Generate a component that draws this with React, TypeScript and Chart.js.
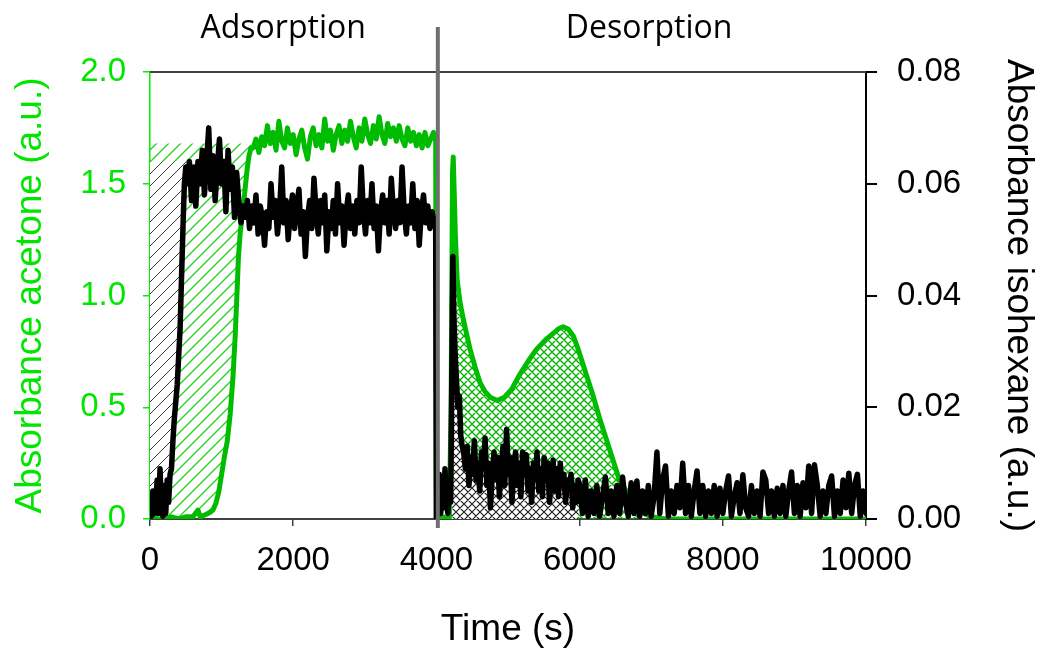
import React, { useEffect, useRef } from 'react';
import { Chart, registerables } from 'chart.js';

Chart.register(...registerables);

// ---------- axes / labels ----------
const X_MIN = 0;
const X_MAX = 10000;
const X_STEP = 2000;
const LEFT_MIN = 0;
const LEFT_MAX = 2.0;
const LEFT_STEP = 0.5;
const RIGHT_MIN = 0;
const RIGHT_MAX = 0.08;
const RIGHT_STEP = 0.02;
const X_TITLE = 'Time (s)';
const LEFT_TITLE = 'Absorbance acetone (a.u.)';
const RIGHT_TITLE = 'Absorbance isohexane (a.u.)';
const PHASE_LABELS = ['Adsorption', 'Desorption'];
const PHASE_LABEL_T = [1860, 6970];
const DIVIDER_T = 4020;

// ---------- acetone (green, left axis) ----------
const G_RISE_T = [0, 100, 200, 300, 400, 500, 600, 670, 700, 780, 840, 880, 920, 960, 1000, 1040, 1080, 1120, 1160, 1190, 1215, 1235, 1260, 1290, 1320, 1355, 1380, 1410];
const G_RISE_V = [0.01, 0.0, 0.0, 0.01, 0.0, 0.01, 0.01, 0.04, 0.01, 0.02, 0.03, 0.04, 0.07, 0.12, 0.2, 0.28, 0.35, 0.47, 0.64, 0.82, 1.01, 1.17, 1.28, 1.36, 1.45, 1.56, 1.62, 1.66];
const G_PLATEAU_T0 = 1440;
const G_PLATEAU_DT = 40;
const G_PLATEAU_V = [
  1.66, 1.70, 1.64, 1.71, 1.67, 1.76, 1.68, 1.73, 1.65, 1.78,
  1.69, 1.66, 1.75, 1.68, 1.72, 1.63, 1.70, 1.74, 1.66, 1.61,
  1.71, 1.75, 1.67, 1.72, 1.66, 1.79, 1.69, 1.74, 1.65, 1.72,
  1.76, 1.68, 1.74, 1.69, 1.78, 1.71, 1.66, 1.75, 1.69, 1.79,
  1.72, 1.68, 1.76, 1.70, 1.80, 1.72, 1.68, 1.77, 1.71, 1.75,
  1.69, 1.76, 1.70, 1.67, 1.75, 1.69, 1.73, 1.67, 1.72, 1.66,
  1.73, 1.67, 1.70, 1.73,
];
const G_DES_T = [3990, 4000, 4050, 4100, 4150, 4180, 4205, 4225, 4235, 4250, 4265, 4290, 4330, 4372, 4420, 4470, 4540, 4610, 4680, 4750, 4850, 4950, 5050, 5170, 5290, 5400, 5520, 5630, 5700, 5770, 5840, 5910, 5980, 6050, 6120, 6190, 6280, 6380, 6480, 6560, 6660, 6760, 6860, 7000, 7200, 7500, 8000, 8500, 9000, 9500, 10000];
const G_DES_V = [1.69, 0.0, 0.0, 0.01, 0.0, 0.0, 0.5, 1.55, 1.62, 1.45, 1.27, 1.07, 0.97, 0.9, 0.83, 0.76, 0.68, 0.61, 0.57, 0.545, 0.53, 0.545, 0.58, 0.65, 0.71, 0.76, 0.8, 0.83, 0.85, 0.86, 0.85, 0.82, 0.76, 0.69, 0.62, 0.55, 0.45, 0.35, 0.25, 0.17, 0.12, 0.07, 0.03, 0.01, 0.0, 0.0, 0.0, 0.0, 0.0, 0.0, 0.0];

// ---------- isohexane (black, right axis) ----------
const B_RISE_T = [0, 20, 40, 60, 80, 100, 120, 140, 160, 180, 200, 220, 240, 260, 280, 300, 320, 340, 360, 380, 400, 420, 440, 460, 480, 500];
const B_RISE_V = [0.002, 0.0005, 0.005, 0.001, 0.003, 0.007, 0.001, 0.009, 0.002, 0.0005, 0.006, 0.001, 0.007, 0.003, 0.008, 0.009, 0.014, 0.018, 0.021, 0.024, 0.029, 0.034, 0.043, 0.052, 0.060, 0.063];
const B_PLAT_A_T0 = 520;
const B_PLAT_A_DT = 30;
const B_PLAT_A_V = [
  0.060, 0.064, 0.057, 0.063, 0.056, 0.064, 0.060, 0.066, 0.058, 0.064,
  0.070, 0.059, 0.065, 0.057, 0.063, 0.068, 0.060, 0.064, 0.055, 0.066,
  0.059, 0.063, 0.054, 0.062, 0.057, 0.053, 0.056,
];
const B_PLAT_B_T0 = 1330;
const B_PLAT_B_DT = 30;
const B_PLAT_B_V = [
  0.054, 0.057, 0.052, 0.056, 0.053, 0.058, 0.051, 0.056, 0.054, 0.049,
  0.055, 0.052, 0.060, 0.054, 0.057, 0.051, 0.055, 0.063, 0.053, 0.057,
  0.050, 0.055, 0.058, 0.052, 0.056, 0.059, 0.051, 0.055, 0.047, 0.054,
  0.057, 0.052, 0.061, 0.055, 0.051, 0.057, 0.053, 0.058, 0.048, 0.055,
  0.052, 0.057, 0.051, 0.060, 0.053, 0.056, 0.049, 0.055, 0.058, 0.052,
  0.056, 0.051, 0.057, 0.053, 0.063, 0.055, 0.051, 0.057, 0.053, 0.060,
  0.052, 0.056, 0.048, 0.055, 0.058, 0.053, 0.057, 0.051, 0.061, 0.055,
  0.052, 0.057, 0.053, 0.063, 0.055, 0.051, 0.056, 0.053, 0.060, 0.052,
  0.057, 0.049, 0.055, 0.058, 0.053, 0.056, 0.052, 0.055, 0.053,
];
const B_DES_T = [3990, 4000, 4020, 4040, 4060, 4080, 4100, 4120, 4140, 4160, 4180, 4200, 4215, 4230, 4245, 4260, 4280, 4300, 4320, 4340, 4360];
const B_DES_V = [0.052, 0.0, 0.004, 0.008, 0.001, 0.006, 0.002, 0.009, 0.003, 0.001, 0.007, 0.003, 0.025, 0.047, 0.036, 0.03, 0.025, 0.02, 0.022, 0.015, 0.013];
const B_DES_MID_T0 = 4380;
const B_DES_MID_DT = 25;
const B_DES_MID_V = [
  0.012, 0.009, 0.013, 0.006, 0.011, 0.008, 0.014, 0.007, 0.010, 0.005,
  0.012, 0.009, 0.0145, 0.006, 0.010, 0.002, 0.008, 0.012, 0.007, 0.011,
  0.004, 0.009, 0.013, 0.006, 0.016, 0.008, 0.011, 0.003, 0.009, 0.012,
  0.006, 0.010, 0.004, 0.012, 0.008, 0.0115, 0.005, 0.009, 0.003, 0.010,
  0.007, 0.012, 0.005, 0.009, 0.004, 0.011, 0.007, 0.010, 0.003, 0.008,
  0.0105, 0.005, 0.009, 0.004, 0.010, 0.006, 0.008, 0.003, 0.007, 0.0055,
  0.008, 0.002, 0.006, 0.003, 0.007,
];
const B_DES_TAIL_T0 = 6000;
const B_DES_TAIL_DT = 40;
const B_DES_TAIL_V = [
  0.006, 0.001, 0.007, 0.0005, 0.005, 0.001, 0.006, 0.0005, 0.004, 0.0075,
  0.001, 0.005, 0.0005, 0.006, 0.001, 0.0075, 0.003, 0.0005, 0.0065, 0.001,
  0.0068, 0.0005, 0.005, 0.001, 0.006, 0.0005, 0.004, 0.012, 0.001, 0.007,
  0.0095, 0.0005, 0.005, 0.001, 0.006, 0.002, 0.010, 0.001, 0.006, 0.0005,
  0.005, 0.0086, 0.001, 0.006, 0.0005, 0.005, 0.001, 0.006, 0.0005, 0.0055,
  0.001, 0.005, 0.0077, 0.0005, 0.004, 0.0065, 0.001, 0.0079, 0.002, 0.0005,
  0.006, 0.001, 0.005, 0.0005, 0.0084, 0.007, 0.001, 0.005, 0.0005, 0.0055,
  0.001, 0.006, 0.0005, 0.005, 0.0084, 0.001, 0.006, 0.0005, 0.0065, 0.002,
  0.0095, 0.001, 0.0097, 0.006, 0.0005, 0.005, 0.001, 0.006, 0.0077, 0.0005,
  0.005, 0.001, 0.007, 0.002, 0.0082, 0.001, 0.006, 0.008, 0.0005, 0.005,
  0.001,
];

// ---------- hatched regions (data units) ----------
const G_ADS_HATCH = { top: 1.68, from: 840, to: 1410 };
const B_ADS_HATCH = { top: 0.064, from: 0, to: 500 };
const G_DES_HATCH = { from: 4180, to: 6860 };
const B_DES_HATCH = { from: 4200, to: 5980 };

// ---------- styles ----------
const FONT = "'Liberation Sans', Arial, sans-serif";
const LABEL_FONT = "'Open Sans', 'Noto Sans', sans-serif";
const GREEN_LINE = '#00BC00';
const GREEN_TEXT = '#00E600';
const GREEN_AXIS = '#00F000';

type P = { x: number; y: number };
const pairs = (ts: number[], vs: number[]): P[] => ts.map((t, i) => ({ x: t, y: vs[i] }));
const sampled = (t0: number, dt: number, vs: number[]): P[] => vs.map((v, i) => ({ x: t0 + i * dt, y: v }));

const GREEN_PTS: P[] = [
  ...pairs(G_RISE_T, G_RISE_V),
  ...sampled(G_PLATEAU_T0, G_PLATEAU_DT, G_PLATEAU_V),
  ...pairs(G_DES_T, G_DES_V),
];
const BLACK_PTS: P[] = [
  ...pairs(B_RISE_T, B_RISE_V),
  ...sampled(B_PLAT_A_T0, B_PLAT_A_DT, B_PLAT_A_V),
  ...sampled(B_PLAT_B_T0, B_PLAT_B_DT, B_PLAT_B_V),
  ...pairs(B_DES_T, B_DES_V),
  ...sampled(B_DES_MID_T0, B_DES_MID_DT, B_DES_MID_V),
  ...sampled(B_DES_TAIL_T0, B_DES_TAIL_DT, B_DES_TAIL_V),
];

function makePattern(ctx: CanvasRenderingContext2D, size: number, color: string, lw: number, cross: boolean, bg: string | null) {
  const c = document.createElement('canvas');
  c.width = size;
  c.height = size;
  const g = c.getContext('2d')!;
  if (bg) {
    g.fillStyle = bg;
    g.fillRect(0, 0, size, size);
  }
  g.strokeStyle = color;
  g.lineWidth = lw;
  g.beginPath();
  g.moveTo(-1, 1); g.lineTo(1, -1);
  g.moveTo(0, size); g.lineTo(size, 0);
  g.moveTo(size - 1, size + 1); g.lineTo(size + 1, size - 1);
  if (cross) {
    g.moveTo(-1, size - 1); g.lineTo(1, size + 1);
    g.moveTo(0, 0); g.lineTo(size, size);
    g.moveTo(size - 1, -1); g.lineTo(size + 1, 1);
  }
  g.stroke();
  return ctx.createPattern(c, 'repeat')!;
}

function fillPoly(ctx: CanvasRenderingContext2D, pts: [number, number][], style: CanvasPattern | string) {
  ctx.beginPath();
  pts.forEach(([x, y], i) => (i === 0 ? ctx.moveTo(x, y) : ctx.lineTo(x, y)));
  ctx.closePath();
  ctx.fillStyle = style;
  ctx.fill();
}

const hatchPlugin = {
  id: 'hatches',
  beforeDatasetsDraw(chart: any) {
    const { ctx, chartArea, scales } = chart;
    const sx = (v: number) => scales.x.getPixelForValue(v);
    const sl = (v: number) => scales.y.getPixelForValue(v);
    const sr = (v: number) => scales.y2.getPixelForValue(v);
    ctx.save();
    ctx.beginPath();
    ctx.rect(chartArea.left, chartArea.top, chartArea.right - chartArea.left, chartArea.bottom - chartArea.top);
    ctx.clip();

    // adsorption: green diagonal hatch (left of green curve)
    const gA = GREEN_PTS.filter((p) => p.x >= G_ADS_HATCH.from && p.x <= G_ADS_HATCH.to);
    const polyGA: [number, number][] = [
      [sx(0), sl(0)],
      [sx(0), sl(G_ADS_HATCH.top)],
      [sx(G_ADS_HATCH.to), sl(G_ADS_HATCH.top)],
      ...gA.slice().reverse().map((p) => [sx(p.x), sl(p.y)] as [number, number]),
      [sx(G_ADS_HATCH.from), sl(0)],
    ];
    fillPoly(ctx, polyGA, makePattern(ctx, 12, '#1ED21E', 1.3, false, null));

    // adsorption: black diagonal hatch (left of black curve)
    const bA = BLACK_PTS.filter((p) => p.x >= B_ADS_HATCH.from && p.x <= B_ADS_HATCH.to);
    const polyBA: [number, number][] = [
      [sx(0), sr(0)],
      [sx(0), sr(B_ADS_HATCH.top)],
      [sx(B_ADS_HATCH.to), sr(B_ADS_HATCH.top)],
      ...bA.slice().reverse().map((p) => [sx(p.x), sr(p.y)] as [number, number]),
    ];
    fillPoly(ctx, polyBA, makePattern(ctx, 12, '#3a3a3a', 1, false, '#ffffff'));

    // desorption: green cross hatch under green curve
    const gD = GREEN_PTS.filter((p) => p.x >= G_DES_HATCH.from && p.x <= G_DES_HATCH.to);
    const polyGD: [number, number][] = [
      ...gD.map((p) => [sx(p.x), sl(p.y)] as [number, number]),
      [sx(G_DES_HATCH.to), sl(0)],
      [sx(G_DES_HATCH.from), sl(0)],
    ];
    fillPoly(ctx, polyGD, makePattern(ctx, 8, '#00B400', 1.3, true, null));

    // desorption: black cross hatch under black curve
    const bD = BLACK_PTS.filter((p) => p.x >= B_DES_HATCH.from && p.x <= B_DES_HATCH.to);
    const polyBD: [number, number][] = [
      ...bD.map((p) => [sx(p.x), sr(p.y)] as [number, number]),
      [sx(B_DES_HATCH.to), sr(0)],
      [sx(B_DES_HATCH.from), sr(0)],
    ];
    fillPoly(ctx, polyBD, makePattern(ctx, 8, '#222222', 1.2, true, '#ffffff'));
    ctx.restore();
  },
  afterDraw(chart: any) {
    const { ctx, chartArea, scales } = chart;
    ctx.save();
    // top frame line
    ctx.strokeStyle = '#404040';
    ctx.lineWidth = 2;
    ctx.beginPath();
    ctx.moveTo(chartArea.left, chartArea.top);
    ctx.lineTo(chartArea.right, chartArea.top);
    ctx.stroke();
    // divider
    const xd = scales.x.getPixelForValue(DIVIDER_T);
    ctx.strokeStyle = '#6f6f6f';
    ctx.lineWidth = 4;
    ctx.beginPath();
    ctx.moveTo(xd, chartArea.top - 45);
    ctx.lineTo(xd, chartArea.bottom + 9);
    ctx.stroke();
    // phase labels
    ctx.fillStyle = '#000';
    ctx.font = `32px ${LABEL_FONT}`;
    ctx.textAlign = 'center';
    ctx.textBaseline = 'alphabetic';
    PHASE_LABELS.forEach((t, i) => {
      ctx.fillText(t, scales.x.getPixelForValue(PHASE_LABEL_T[i]), chartArea.top - 34);
    });
    ctx.restore();
  },
};

export default function App() {
  const ref = useRef<HTMLCanvasElement | null>(null);
  useEffect(() => {
    if (!ref.current) return;
    const chart = new Chart(ref.current, {
      type: 'line',
      data: {
        datasets: [
          {
            label: 'isohexane',
            data: BLACK_PTS,
            yAxisID: 'y2',
            borderColor: '#000000',
            backgroundColor: '#000000',
            borderWidth: 5.5,
            pointRadius: 0,
            tension: 0,
            borderJoinStyle: 'round',
            borderCapStyle: 'round',
            order: 0,
          },
          {
            label: 'acetone',
            data: GREEN_PTS,
            yAxisID: 'y',
            borderColor: GREEN_LINE,
            backgroundColor: GREEN_LINE,
            borderWidth: 5,
            pointRadius: 0,
            tension: 0,
            borderJoinStyle: 'round',
            borderCapStyle: 'round',
            order: 1,
          },
        ],
      },
      options: {
        responsive: false,
        animation: false,
        devicePixelRatio: 1,
        layout: { padding: { top: 72, left: 0, right: 0, bottom: 0 } },
        plugins: { legend: { display: false }, tooltip: { enabled: false } },
        scales: {
          x: {
            type: 'linear',
            min: X_MIN,
            max: X_MAX,
            ticks: {
              stepSize: X_STEP,
              color: '#000',
              font: { family: FONT, size: 33 },
              padding: 15,
              maxRotation: 0,
              autoSkip: false,
              callback: (v: any) => String(v),
            },
            grid: { drawOnChartArea: false, drawTicks: true, tickLength: 7, color: '#404040', lineWidth: 1.5 },
            border: { display: true, color: '#404040', width: 2 },
            title: {
              display: true,
              text: X_TITLE,
              color: '#000',
              font: { family: FONT, size: 37, lineHeight: 1 },
              padding: { top: 0, bottom: 3.5 },
            },
            afterFit: (s: any) => {
              s.height = 133;
            },
          },
          y: {
            type: 'linear',
            position: 'left',
            min: LEFT_MIN,
            max: LEFT_MAX,
            ticks: {
              stepSize: LEFT_STEP,
              color: GREEN_TEXT,
              font: { family: FONT, size: 33 },
              padding: 17,
              callback: (v: any) => Number(v).toFixed(1),
            },
            grid: { drawOnChartArea: false, drawTicks: true, tickLength: 7, color: GREEN_AXIS, lineWidth: 1.5 },
            border: { display: true, color: GREEN_AXIS, width: 1.5 },
            title: {
              display: true,
              text: LEFT_TITLE,
              color: GREEN_TEXT,
              font: { family: FONT, size: 37, lineHeight: 1 },
              padding: { top: 12.5, bottom: 0 },
            },
            afterFit: (s: any) => {
              s.width = 150;
            },
          },
          y2: {
            type: 'linear',
            position: 'right',
            min: RIGHT_MIN,
            max: RIGHT_MAX,
            ticks: {
              stepSize: RIGHT_STEP,
              color: '#000',
              font: { family: FONT, size: 33 },
              padding: 20,
              callback: (v: any) => Number(v).toFixed(2),
            },
            grid: { drawOnChartArea: false, drawTicks: true, tickLength: 11, color: '#000', lineWidth: 2 },
            border: { display: true, color: '#000', width: 2 },
            title: {
              display: true,
              text: RIGHT_TITLE,
              color: '#000',
              font: { family: FONT, size: 37, lineHeight: 1 },
              padding: { top: 0.5, bottom: 0 },
            },
            afterFit: (s: any) => {
              s.width = 171;
            },
          },
        },
      },
      plugins: [hatchPlugin],
    } as any);
    return () => chart.destroy();
  }, []);
  return (
    <div style={{ position: 'fixed', left: 0, top: 0, width: 1037, height: 652, background: '#fff' }}>
      <canvas ref={ref} width={1037} height={652} style={{ display: 'block', width: 1037, height: 652 }} />
    </div>
  );
}
